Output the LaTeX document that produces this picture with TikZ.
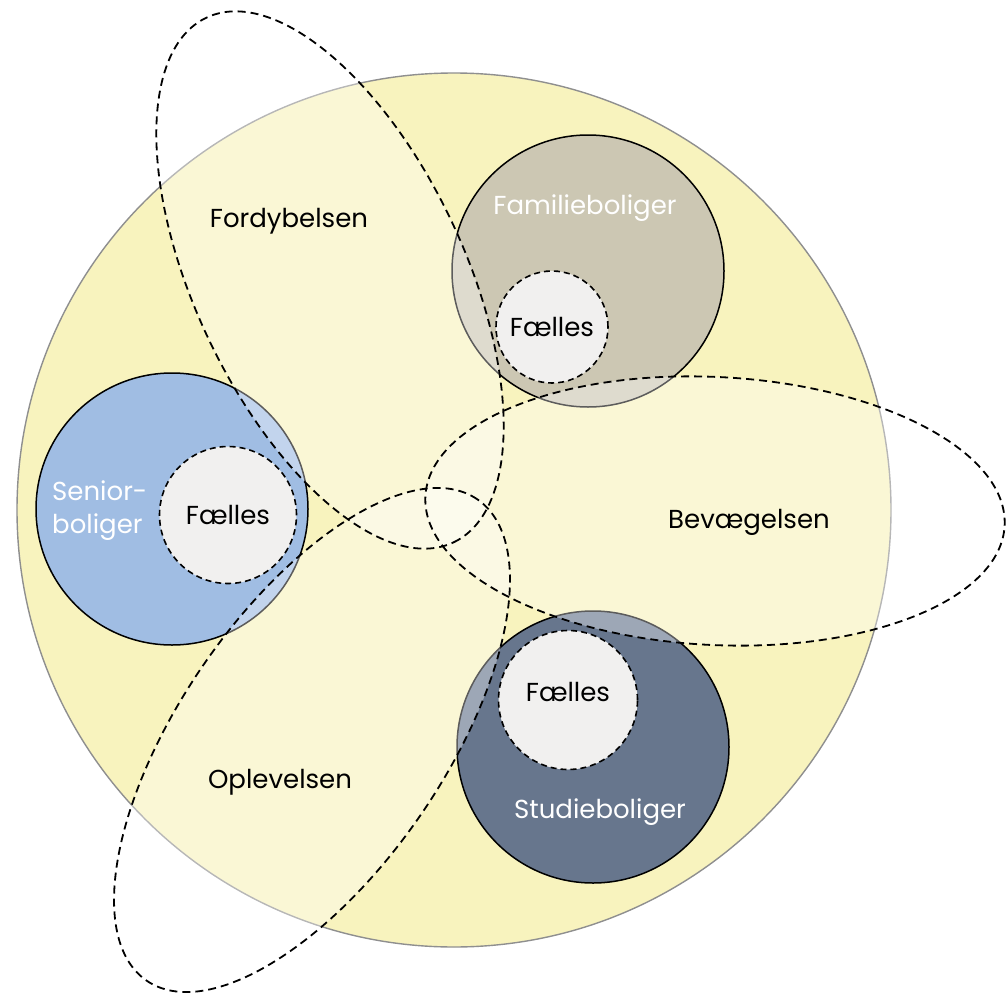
\documentclass[tikz,border=0pt]{standalone}
\usepackage{fontspec}
\setmainfont{Poppins}
\definecolor{bgyellow}{HTML}{F8F3BE}
\definecolor{famcol}{HTML}{CCC7B3}
\definecolor{sencol}{HTML}{A0BDE3}
\definecolor{stucol}{HTML}{67768D}
\definecolor{faelcol}{HTML}{F1F0EF}
\definecolor{bigborder}{HTML}{8F8F8F}
\tikzset{
  bigcirc/.style={circle, draw=bigborder, line width=1.4pt, fill=bgyellow, inner sep=0pt},
  housing/.style={circle, draw=black, line width=1.5pt, inner sep=0pt, minimum size=272pt},
  faelles/.style={circle, draw=black, dashed, dash pattern=on 6pt off 4pt, line width=1.6pt, fill=faelcol, inner sep=0pt},
  zonefill/.style={fill=white, fill opacity=0.36},
  zoneline/.style={draw=black, line width=1.8pt, dash pattern=on 8pt off 5pt},
  lbl/.style={font=\fontsize{26}{33}\selectfont, text=black, inner sep=0pt},
  wlbl/.style={font=\fontsize{26}{33}\selectfont, text=white, inner sep=0pt},
}
\begin{document}
\begin{tikzpicture}[x=1pt, y=1pt]
\useasboundingbox (0,0) rectangle (1007,-993);
% big circle
\node[bigcirc, minimum size=874pt] (big) at (454,-510) {};
% housing circles
\node[housing, fill=famcol] (fam) at (588,-271) {};
\node[housing, fill=sencol] (sen) at (172,-509) {};
\node[housing, fill=stucol] (stu) at (593,-747) {};
% translucent zone fills
\fill[zonefill, rotate around={-64.8:(330,-280)}] (330,-280) ellipse [x radius=290pt, y radius=135pt];
\fill[zonefill, rotate around={-2.9:(715,-511)}] (715,-511) ellipse [x radius=290pt, y radius=134pt];
\fill[zonefill, rotate around={55.5:(312,-740)}] (312,-740) ellipse [x radius=292pt, y radius=132pt];
% shared circles
\node[faelles, minimum size=112pt] (ffam) at (552,-327) {};
\node[faelles, minimum size=137pt] (fsen) at (228,-515) {};
\node[faelles, minimum size=139pt] (fstu) at (568,-700) {};
% zone outlines
\draw[zoneline, rotate around={-64.8:(330,-280)}] (330,-280) ellipse [x radius=290pt, y radius=135pt];
\draw[zoneline, rotate around={-2.9:(715,-511)}] (715,-511) ellipse [x radius=290pt, y radius=134pt];
\draw[zoneline, rotate around={55.5:(312,-740)}] (312,-740) ellipse [x radius=292pt, y radius=132pt];
% labels
\node[lbl] (tfordy) at (289,-221) {Fordybelsen};
\node[lbl] (tbev) at (749,-522) {Bevægelsen};
\node[lbl] (topl) at (280,-782) {Oplevelsen};
\node[wlbl] (tfam) at (585,-208) {Familieboliger};
\node[wlbl, align=left, anchor=west] (tsen) at (52,-511) {Senior-\\boliger};
\node[wlbl] (tstu) at (600,-812) {Studieboliger};
\node[lbl] (tffam) at (ffam) {Fælles};
\node[lbl] (tfsen) at (fsen) {Fælles};
\node[lbl] (tfstu) at ([yshift=8pt]fstu.center) {Fælles};
\end{tikzpicture}
\end{document}
